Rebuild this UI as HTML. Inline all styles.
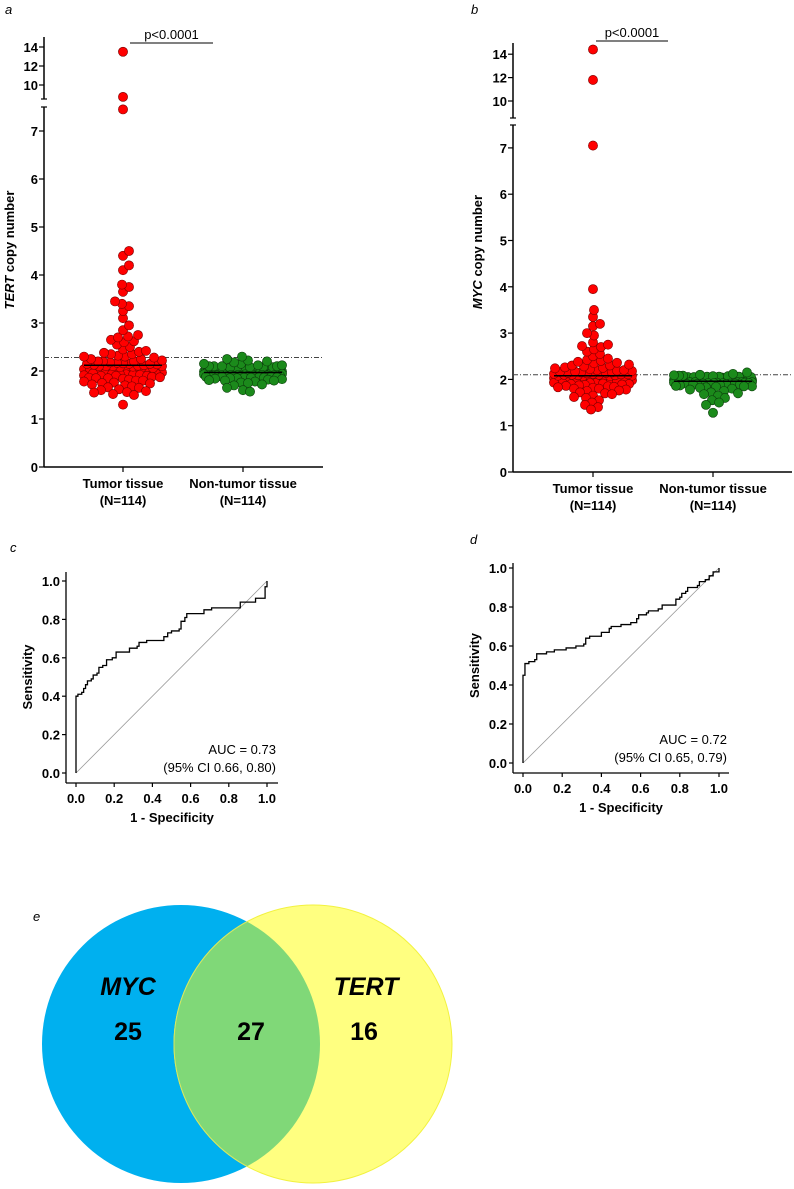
<!DOCTYPE html>
<html><head><meta charset="utf-8"><style>
body{margin:0;background:#fff}
svg text{font-family:"Liberation Sans",Arial,sans-serif}
.tk{font-size:13px;font-weight:bold}
</style></head><body>
<svg id="s" xmlns="http://www.w3.org/2000/svg" width="794" height="1184" viewBox="0 0 794 1184">
<text x="5" y="14" font-size="13" font-style="italic">a</text>
<text x="471" y="14" font-size="13" font-style="italic">b</text>
<text x="10" y="552" font-size="13" font-style="italic">c</text>
<text x="470" y="544" font-size="13" font-style="italic">d</text>
<text x="33" y="921" font-size="13" font-style="italic">e</text>
<g>
<defs><clipPath id="cb"><circle cx="181" cy="1044" r="139"/></clipPath></defs>
<circle cx="181" cy="1044" r="139" fill="#00b0ef"/>
<circle cx="313" cy="1044" r="139" fill="#ffff80" stroke="#f2f240" stroke-width="1"/>
<circle cx="313" cy="1044" r="139" fill="#80d878" clip-path="url(#cb)" stroke="#d8e860" stroke-width="1"/>
<text x="128" y="995" font-size="25" font-weight="bold" font-style="italic" text-anchor="middle">MYC</text>
<text x="128" y="1040" font-size="25" font-weight="bold" text-anchor="middle">25</text>
<text x="251" y="1040" font-size="25" font-weight="bold" text-anchor="middle">27</text>
<text x="366" y="995" font-size="25" font-weight="bold" font-style="italic" text-anchor="middle">TERT</text>
<text x="364" y="1040" font-size="25" font-weight="bold" text-anchor="middle">16</text>
</g>
</svg>
<script>
const tertTumor=[13.5,8.75,7.45,4.5,4.4,4.2,4.1,3.8,3.75,3.65,3.45,3.4,3.35,3.25,3.1,2.95,2.85,2.75,2.72,2.7,2.65,2.62,2.6,2.55,2.5,2.45,2.42,2.4,2.38,2.35,2.35,2.32,2.3,2.3,2.28,2.25,2.25,2.22,2.2,2.2,2.2,2.18,2.17,2.15,2.15,2.15,2.13,2.12,2.1,2.1,2.1,2.1,2.08,2.07,2.05,2.05,2.05,2.04,2.03,2.02,2.0,2.0,2.0,2.0,1.99,1.98,1.97,1.96,1.95,1.95,1.95,1.94,1.93,1.92,1.92,1.9,1.9,1.9,1.88,1.87,1.86,1.85,1.85,1.84,1.82,1.8,1.8,1.78,1.76,1.75,1.74,1.72,1.7,1.68,1.66,1.65,1.62,1.6,1.58,1.56,1.55,1.52,1.5,1.3,2.14,2.06,2.01,1.97,1.93,2.16,2.09,1.91,2.03,2.11];
const tertNon=[2.3,2.25,2.22,2.2,2.18,2.15,2.15,2.12,2.1,2.1,2.1,2.08,2.08,2.07,2.06,2.05,2.05,2.05,2.04,2.03,2.03,2.02,2.02,2.01,2.01,2.0,2.0,2.0,2.0,2.0,1.99,1.99,1.99,1.98,1.98,1.98,1.98,1.97,1.97,1.97,1.97,1.97,1.96,1.96,1.96,1.96,1.95,1.95,1.95,1.95,1.95,1.94,1.94,1.94,1.94,1.93,1.93,1.93,1.93,1.92,1.92,1.92,1.91,1.91,1.91,1.9,1.9,1.9,1.9,1.89,1.89,1.88,1.88,1.87,1.87,1.86,1.86,1.85,1.85,1.84,1.83,1.82,1.81,1.8,1.8,1.78,1.76,1.75,1.72,1.7,1.65,1.6,1.57,2.06,2.04,2.02,2.0,1.98,1.96,1.94,1.92,1.9,2.08,2.1,2.12,1.88,1.86,2.03,1.97,1.99,2.01,1.95,1.93,2.05];
const mycTumor=[14.4,11.8,7.05,3.95,3.5,3.35,3.2,3.15,3.0,2.95,2.8,2.75,2.72,2.7,2.65,2.6,2.55,2.5,2.45,2.42,2.4,2.38,2.36,2.35,2.32,2.3,2.3,2.28,2.26,2.25,2.24,2.22,2.2,2.2,2.19,2.18,2.17,2.16,2.15,2.15,2.14,2.13,2.12,2.12,2.11,2.1,2.1,2.1,2.09,2.08,2.08,2.07,2.06,2.06,2.05,2.05,2.04,2.03,2.03,2.02,2.02,2.01,2.0,2.0,2.0,1.99,1.99,1.98,1.98,1.97,1.97,1.96,1.95,1.95,1.94,1.93,1.92,1.92,1.91,1.9,1.9,1.89,1.88,1.87,1.86,1.85,1.84,1.83,1.82,1.8,1.8,1.78,1.76,1.75,1.72,1.7,1.68,1.65,1.62,1.6,1.55,1.5,1.45,1.4,1.35,2.14,2.11,2.07,2.04,2.01,1.96,2.09,2.05,2.0];
const mycNon=[2.15,2.12,2.1,2.09,2.08,2.07,2.06,2.06,2.05,2.05,2.04,2.04,2.03,2.03,2.02,2.02,2.02,2.01,2.01,2.0,2.0,2.0,2.0,1.99,1.99,1.99,1.99,1.98,1.98,1.98,1.98,1.97,1.97,1.97,1.97,1.97,1.96,1.96,1.96,1.96,1.95,1.95,1.95,1.95,1.95,1.94,1.94,1.94,1.94,1.93,1.93,1.93,1.93,1.92,1.92,1.92,1.91,1.91,1.91,1.9,1.9,1.9,1.89,1.89,1.88,1.88,1.87,1.86,1.85,1.85,1.84,1.83,1.82,1.8,1.78,1.75,1.72,1.7,1.68,1.65,1.6,1.55,1.5,1.45,1.28,2.06,2.04,2.02,2.0,1.98,1.96,1.94,1.92,2.08,2.03,1.97,1.99,2.01,1.95,1.93,2.05,2.0,1.98,1.96,1.94,2.02,2.07,1.99,2.01,1.97];
const medians=[[2.12,1.97],[2.08,1.96]];
const cutoffs=[2.28,2.1];
const lowTicks=[0,1,2,3,4,5,6,7];
const highTicks=[10,12,14];
const catLabels=["Tumor tissue","Non-tumor tissue"];
const rocCx=[0,0,0.01,0.03,0.04,0.05,0.06,0.08,0.09,0.11,0.12,0.14,0.16,0.18,0.19,0.21,0.27,0.28,0.32,0.33,0.37,0.44,0.46,0.48,0.5,0.54,0.55,0.57,0.58,0.66,0.67,0.71,0.83,0.86,0.91,0.94,0.99,0.99,1.0];
const rocCy=[0,0.40,0.41,0.42,0.44,0.46,0.48,0.49,0.51,0.52,0.55,0.56,0.59,0.59,0.60,0.63,0.63,0.65,0.66,0.68,0.69,0.69,0.71,0.73,0.74,0.75,0.79,0.81,0.83,0.83,0.85,0.86,0.86,0.89,0.89,0.91,0.93,0.97,1.0];
const rocDx=[0,0,0.01,0.01,0.03,0.06,0.07,0.11,0.12,0.16,0.22,0.27,0.31,0.32,0.34,0.39,0.4,0.44,0.45,0.5,0.55,0.58,0.59,0.63,0.64,0.69,0.71,0.77,0.78,0.8,0.81,0.83,0.84,0.89,0.9,0.93,0.95,0.97,1.0];
const rocDy=[0,0.45,0.46,0.51,0.52,0.53,0.56,0.56,0.57,0.58,0.59,0.6,0.61,0.64,0.65,0.65,0.67,0.69,0.70,0.71,0.72,0.74,0.76,0.77,0.78,0.79,0.81,0.81,0.84,0.85,0.87,0.88,0.90,0.91,0.93,0.94,0.96,0.98,1.0];
const rocTicks=[0,0.2,0.4,0.6,0.8,1.0];

const NS="http://www.w3.org/2000/svg";
const S=document.getElementById('s');
function el(t,a,p){const e=document.createElementNS(NS,t);for(const k in a)e.setAttribute(k,a[k]);(p||S).appendChild(e);return e;}
function txt(x,y,s,a,p){const e=el('text',Object.assign({x:x,y:y},a),p);e.textContent=s;return e;}

function dotPanel(cfg){
  const g=el('g',{});
  
  
  const yL=v=>cfg.y0-v*cfg.kL, yH=v=>cfg.y10-(v-10)*cfg.kH;
  const Y=v=>v>8?yH(v):yL(v);
  let a=el('line',{x1:cfg.ax,y1:cfg.y0,x2:cfg.ax,y2:cfg.lowTop,stroke:'#000','stroke-width':1.5},g);
  
  a=el('line',{x1:cfg.ax,y1:cfg.highBot,x2:cfg.ax,y2:cfg.highTop,stroke:'#000','stroke-width':1.5},g);
  
  el('line',{x1:cfg.ax-3,y1:cfg.lowTop,x2:cfg.ax+3,y2:cfg.lowTop,stroke:'#000','stroke-width':1.2},g);
  el('line',{x1:cfg.ax-3,y1:cfg.highBot,x2:cfg.ax+3,y2:cfg.highBot,stroke:'#000','stroke-width':1.2},g);
  a=el('line',{x1:cfg.ax,y1:cfg.y0,x2:cfg.axEnd,y2:cfg.y0,stroke:'#000','stroke-width':1.5},g);
  
  lowTicks.forEach(v=>{el('line',{x1:cfg.ax-5,y1:yL(v),x2:cfg.ax,y2:yL(v),stroke:'#000','stroke-width':1.2},g);
    const t=txt(cfg.ax-6,yL(v)+5,String(v),{'class':'tk','text-anchor':'end'},g);});
  highTicks.forEach(v=>{el('line',{x1:cfg.ax-5,y1:yH(v),x2:cfg.ax,y2:yH(v),stroke:'#000','stroke-width':1.2},g);
    const t=txt(cfg.ax-6,yH(v)+5,String(v),{'class':'tk','text-anchor':'end'},g);});
  const yt=txt(0,0,'',{'font-size':13,'font-weight':'bold','text-anchor':'middle',transform:`translate(${cfg.tx},${cfg.ty}) rotate(-90)`},g);
  
  const ts=el('tspan',{'font-style':'italic'},yt);ts.textContent=cfg.gene;
  const ts2=el('tspan',{},yt);ts2.textContent=' copy number';
  const cl=el('line',{x1:cfg.ax,y1:yL(cfg.cut),x2:cfg.axEnd,y2:yL(cfg.cut),stroke:'#444','stroke-width':1,'stroke-dasharray':'5,2,1,2'},g);
  
  const colors=[['#ff0000','#7a0000'],['#1b8a1b','#0b3d0b']];
  cfg.groups.forEach((vals,gi)=>{
    const cx=cfg.cats[gi];
    el('line',{x1:cx,y1:cfg.y0,x2:cx,y2:cfg.y0+5,stroke:'#000','stroke-width':1.2},g);
    const l1=txt(cx,cfg.y0+21,catLabels[gi],{'class':'tk','text-anchor':'middle'},g);
    const l2=txt(cx,cfg.y0+38,'(N=114)',{'class':'tk','text-anchor':'middle'},g);
    const sorted=vals.slice().sort((a,b)=>Math.abs(a-2)-Math.abs(b-2));
    const placed=[];const D=7,lim=cfg.spread;
    sorted.forEach(v=>{const y=Y(v);let best=0,bestd=-1;
      for(let k=0;k<=Math.floor(lim);k++){for(const s of [1,-1]){const off=k*s;let md=1e9;
        placed.forEach(p=>{const d=Math.hypot(p[0]-off,p[1]-y);if(d<md)md=d;});
        if(md>=D){best=off;bestd=1e9;break;} if(md>bestd){bestd=md;best=off;}}
        if(bestd===1e9)break;}
      placed.push([best,y]);});
    placed.forEach(p=>{const c=el('circle',{cx:cx+p[0],cy:p[1],r:4.6,fill:colors[gi][0],stroke:colors[gi][1],'stroke-width':0.6},g);
      
      });
    const m=el('line',{x1:cx-39,y1:yL(cfg.med[gi]),x2:cx+39,y2:yL(cfg.med[gi]),stroke:'#000','stroke-width':1.5},g);
    
  });
  const pl=el('line',{x1:cfg.p[0],y1:cfg.p[2],x2:cfg.p[1],y2:cfg.p[2],stroke:'#000','stroke-width':1},g);
  
  const pt=txt((cfg.p[0]+cfg.p[1])/2,cfg.p[2]-4,'p<0.0001',{'font-size':13,'text-anchor':'middle'},g);
  
}
dotPanel({name:'tert-dot-plot',gene:'TERT',ax:44,axEnd:323,y0:467,kL:48,y10:85,kH:9.5,lowTop:107,highBot:99,highTop:37,cats:[123,243],cut:cutoffs[0],med:medians[0],groups:[tertTumor,tertNon],spread:39,p:[130,213,43],tx:14,ty:250});
dotPanel({name:'myc-dot-plot',gene:'MYC',ax:513,axEnd:792,y0:472,kL:46.3,y10:101,kH:11.7,lowTop:125,highBot:118,highTop:43,cats:[593,713],cut:cutoffs[1],med:medians[1],groups:[mycTumor,mycNon],spread:39,p:[596,668,41],tx:482,ty:252});

function roc(cfg){
  const g=el('g',{});
  
  
  const X=v=>cfg.x0+v*(cfg.x1-cfg.x0), Yv=v=>cfg.y0-v*(cfg.y0-cfg.y1);
  let a=el('line',{x1:cfg.ax,y1:cfg.axTop,x2:cfg.ax,y2:cfg.axB,stroke:'#000','stroke-width':1.3},g);
  
  a=el('line',{x1:cfg.ax,y1:cfg.axB,x2:cfg.axR,y2:cfg.axB,stroke:'#000','stroke-width':1.3},g);
  
  rocTicks.forEach(v=>{
    el('line',{x1:cfg.ax-4,y1:Yv(v),x2:cfg.ax,y2:Yv(v),stroke:'#000','stroke-width':1.2},g);
    let t=txt(cfg.ax-6,Yv(v)+5,v.toFixed(1),{'class':'tk','text-anchor':'end'},g);
    el('line',{x1:X(v),y1:cfg.axB,x2:X(v),y2:cfg.axB+4,stroke:'#000','stroke-width':1.2},g);
    t=txt(X(v),cfg.axB+20,v.toFixed(1),{'class':'tk','text-anchor':'middle'},g);
  });
  let t=txt((cfg.ax+cfg.axR)/2,cfg.axB+39,'1 - Specificity',{'class':'tk','text-anchor':'middle'},g);
  t=txt(0,0,'Sensitivity',{'class':'tk','text-anchor':'middle',transform:`translate(${cfg.tx},${(Yv(0)+Yv(1))/2}) rotate(-90)`},g);
  const dg=el('line',{x1:X(0),y1:Yv(0),x2:X(1),y2:Yv(1),stroke:'#999','stroke-width':0.8},g);
  
  let d=`M${X(cfg.xs[0])},${Yv(cfg.ys[0])}`;
  for(let i=1;i<cfg.xs.length;i++){d+=` H${X(cfg.xs[i])} V${Yv(cfg.ys[i])}`;}
  const p=el('path',{d:d,fill:'none',stroke:'#000','stroke-width':1.3},g);
  
  t=txt(cfg.axR-2,cfg.axB-29,cfg.auc,{'font-size':13,'text-anchor':'end'},g);
  t=txt(cfg.axR-2,cfg.axB-11,cfg.ci,{'font-size':13,'text-anchor':'end'},g);
}
roc({name:'tert-roc-chart',xs:rocCx,ys:rocCy,ax:66,axTop:572,axB:783,axR:278,x0:76,x1:267,y0:773,y1:581,tx:32,auc:'AUC = 0.73',ci:'(95% CI 0.66, 0.80)'});
roc({name:'myc-roc-chart',xs:rocDx,ys:rocDy,ax:513,axTop:563,axB:773,axR:729,x0:523,x1:719,y0:763,y1:568,tx:479,auc:'AUC = 0.72',ci:'(95% CI 0.65, 0.79)'});
</script>
</body></html>
